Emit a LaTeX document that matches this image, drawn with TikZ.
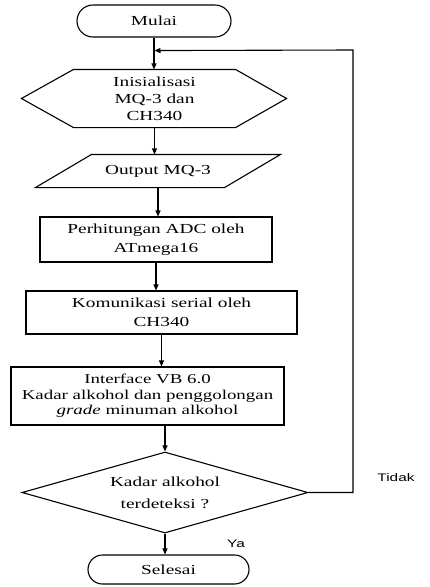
\documentclass[tikz,border=0pt]{standalone}
\usepackage{fontspec}
\setmainfont{Liberation Serif}[FakeStretch=1.4]
\newfontfamily\labelfont{Liberation Sans}[FakeStretch=1.4]
\usetikzlibrary{shapes.geometric, shapes.misc, arrows.meta, calc}

\begin{document}
\begin{tikzpicture}[x=1pt, y=-1pt, line width=1.1pt,
    every node/.style={font=\fontsize{13.8}{17}\selectfont, align=center, inner sep=0pt},
    terminal/.style={rounded rectangle, draw},
    process/.style={rectangle, draw},
    textonly/.style={rectangle},
    decision/.style={diamond, draw, aspect=3.5},
    flow/.style={-{Triangle[length=6pt, width=5pt]}},
    answer/.style={font=\labelfont\fontsize{11}{13}\selectfont}]
    \useasboundingbox (0,0) rectangle (429,587);

    % Start
    \node[terminal, minimum width=154pt, minimum height=32pt] (mulai) at (154,21) {Mulai};

    % Initialisation (hexagon)
    \node[textonly, minimum width=161pt, minimum height=57pt] (init) at (154.5,98.5) {Inisialisasi\\MQ-3 dan\\CH340};
    \draw (init.north west) -- (init.north east) -- ($(init.east)+(51,0)$) -- (init.south east)
        -- (init.south west) -- ($(init.west)+(-52,0)$) -- cycle;

    % Sensor output (parallelogram)
    \node[textonly, minimum width=188pt, minimum height=32pt] (output) at (158,171) {Output MQ-3};
    \draw ($(output.north west)+(28,0)$) -- ($(output.north east)+(28,0)$)
        -- ($(output.south east)+(-28,0)$) -- ($(output.south west)+(-28,0)$) -- cycle;

    % Processing steps
    \node[process, minimum width=232pt, minimum height=45pt, font=\fontsize{13.8}{19.5}\selectfont] (adc) at (156,239.5) {Perhitungan ADC oleh\\ATmega16};
    \node[process, minimum width=271pt, minimum height=43pt, font=\fontsize{13.8}{19}\selectfont] (serial) at (161.5,312.5) {Komunikasi serial oleh\\CH340};
    \node[process, minimum width=273pt, minimum height=58pt, font=\fontsize{13.5}{15.5}\selectfont] (vb) at (147.5,396) {Interface VB 6.0\\Kadar alkohol dan penggolongan\\\textit{grade} minuman alkohol};

    % Decision
    \node[decision, minimum width=286pt, minimum height=81pt, font=\fontsize{13.8}{22}\selectfont] (cek) at (165,492.5) {Kadar alkohol\\terdeteksi ?};

    % End
    \node[terminal, minimum width=161pt, minimum height=29pt] (selesai) at (168.5,569.5) {Selesai};

    % Flow
    \draw[flow] (mulai.south) -- (mulai.south |- init.north);
    \draw[flow] (init.south) -- (init.south |- output.north);
    \draw[flow] (output.south) -- (output.south |- adc.north);
    \draw[flow] (adc.south) -- (adc.south |- serial.north);
    \draw[flow] (serial.south) -- (serial.south |- vb.north);
    \draw[flow] (vb.south -| cek.north) -- (cek.north);
    \draw[flow] (cek.south) -- (cek.south |- selesai.north);

    % Loop back
    \coordinate (join) at ($(mulai.south)+(0.5,13)$);
    \coordinate (corner) at (353,50);
    \draw[flow] (cek.east) -| (corner) -- (join);
    \node[answer] (tidak) at (396,478) {Tidak};
    \node[answer] (ya) at (236,544) {Ya};
\end{tikzpicture}
\end{document}
